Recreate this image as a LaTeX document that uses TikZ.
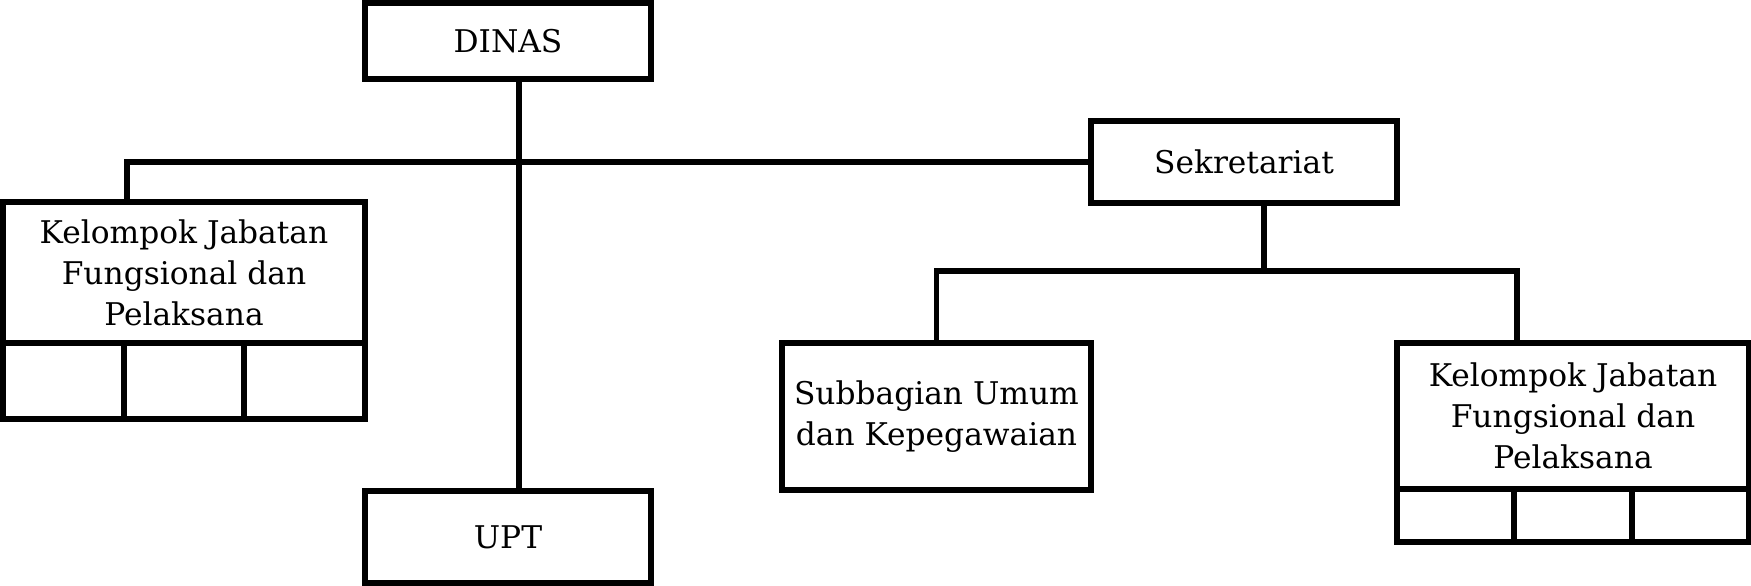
\documentclass[tikz,border=0pt]{standalone}
\usepackage{fontspec}
\setmainfont{DejaVu Serif}
\usepackage{tikz}
\tikzset{
    unit/.style={draw, line width=1.7pt, inner sep=0pt, align=center,
        font=\fontsize{8.9}{11.7}\selectfont},
    cell/.style={draw, line width=1.7pt, inner sep=0pt},
    link/.style={line width=1.7pt}
}

\begin{document}
\begin{tikzpicture}
		\useasboundingbox (0,0) rectangle (17.51,-5.86);
		%top
		\node[unit, minimum width=2.86cm, minimum height=0.76cm] (dinas) at (5.08,-0.41) {DINAS};
		\node[unit, minimum width=2.86cm, minimum height=0.92cm] (upt) at (5.08,-5.37) {UPT};
		\node[unit, minimum width=3.06cm, minimum height=0.82cm] (sekr) at (12.44,-1.62) {Sekretariat};

		%left group
		\node[unit, minimum width=3.62cm, minimum height=1.41cm] (kjfA) at (1.84,-2.725) {Kelompok Jabatan\\Fungsional dan\\Pelaksana};
		\node[cell, minimum width=1.207cm, minimum height=0.76cm] (kjfA1) at (0.634,-3.81) {};
		\node[cell, minimum width=1.207cm, minimum height=0.76cm] (kjfA2) at (1.84,-3.81) {};
		\node[cell, minimum width=1.207cm, minimum height=0.76cm] (kjfA3) at (3.047,-3.81) {};

		%secretariat group
		\node[unit, minimum width=3.09cm, minimum height=1.47cm] (subbag) at (9.365,-4.165) {Subbagian Umum\\dan Kepegawaian};
		\node[unit, minimum width=3.52cm, minimum height=1.46cm] (kjfB) at (15.73,-4.16) {Kelompok Jabatan\\Fungsional dan\\Pelaksana};
		\node[cell, minimum width=1.173cm, minimum height=0.53cm] (kjfB1) at (14.557,-5.155) {};
		\node[cell, minimum width=1.173cm, minimum height=0.53cm] (kjfB2) at (15.73,-5.155) {};
		\node[cell, minimum width=1.173cm, minimum height=0.53cm] (kjfB3) at (16.903,-5.155) {};

		\coordinate (split) at (12.64,-2.71);

		\draw[link] ([xshift=1.1mm]dinas.south) -- ([xshift=1.1mm]upt.north);
		\draw[link] (sekr.west) -| (kjfA1.north east |- kjfA.north);
		\draw[link] (sekr.south -| split) -- (split);
		\draw[link] (subbag.north) |- (split) -| (kjfB1.north east |- kjfB.north);

	\end{tikzpicture}
\end{document}
